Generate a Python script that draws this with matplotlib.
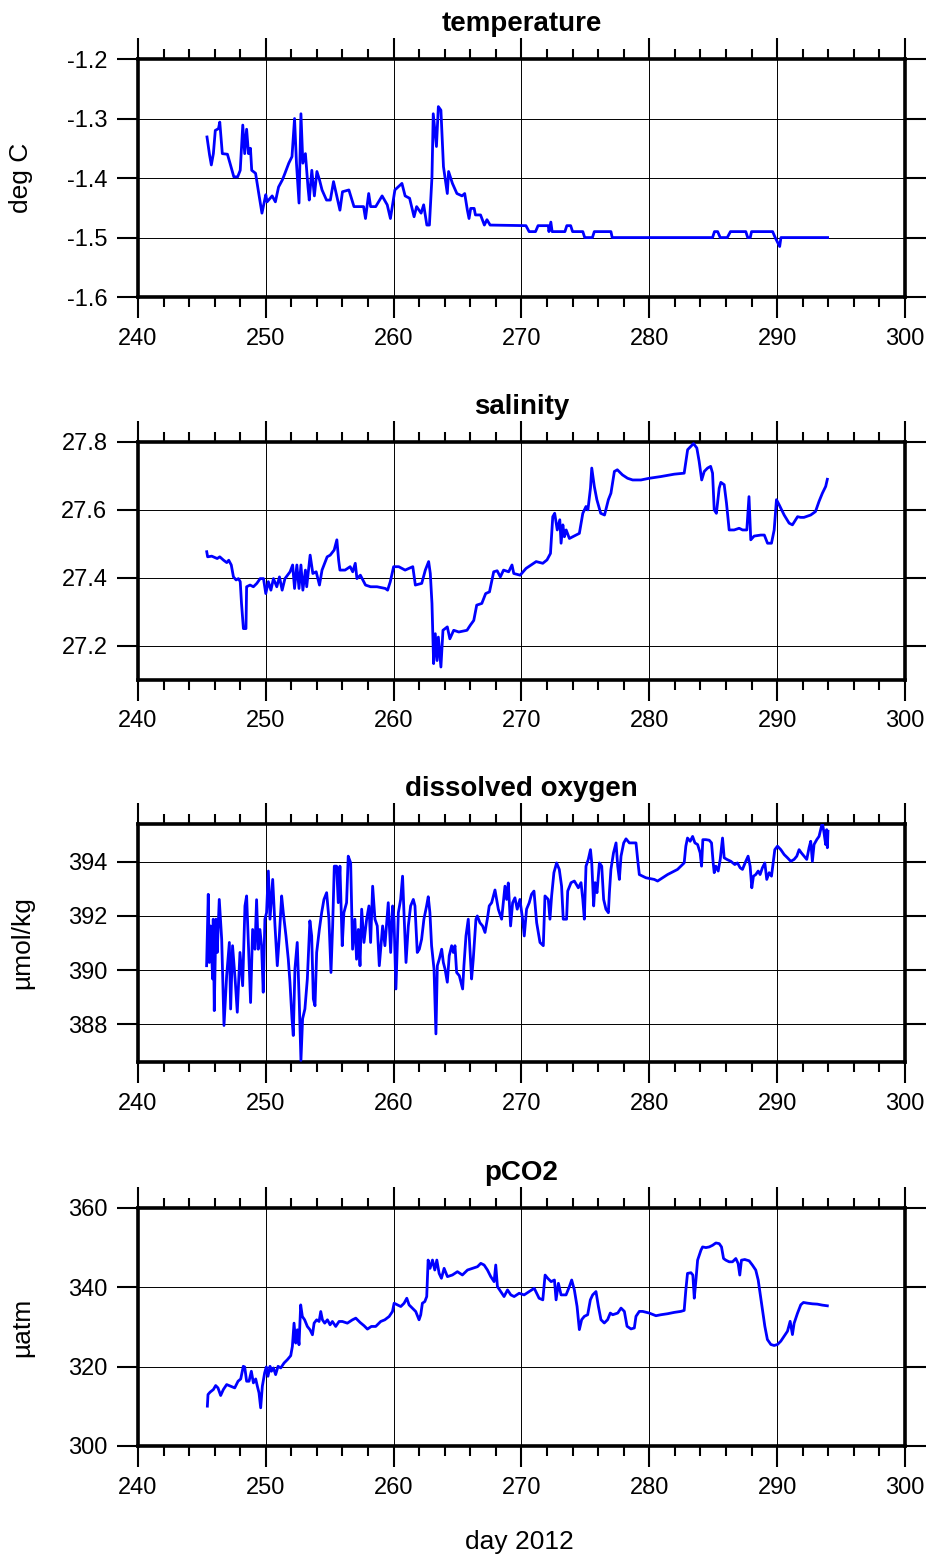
import matplotlib
matplotlib.use("Agg")
import matplotlib.pyplot as plt
from matplotlib.ticker import MultipleLocator

plt.rcParams['font.family'] = ['Liberation Sans', 'DejaVu Sans']

# temperature (deg C)
temp_day = [245.4, 245.6, 245.74, 245.9, 246.05, 246.3, 246.4, 246.6, 247.0, 247.2, 247.5, 247.8,
            248.0, 248.2, 248.35, 248.5, 248.65, 248.8, 248.9, 249.2, 249.45, 249.7, 250.0, 250.1,
            250.5, 250.75, 251.0, 251.3, 251.5, 251.8, 252.05, 252.25, 252.4, 252.6, 252.75, 252.9,
            253.1, 253.3, 253.4, 253.6, 253.8, 254.0, 254.2, 254.4, 254.75, 255.05, 255.3, 255.55,
            255.8, 256.0, 256.5, 256.9, 257.65, 257.8, 258.05, 258.2, 258.6, 259.1, 259.5, 259.75,
            260.1, 260.65, 260.9, 261.25, 261.6, 261.8, 262.15, 262.35, 262.6, 262.8, 263.0, 263.1,
            263.35, 263.5, 263.7, 263.9, 264.2, 264.3, 264.6, 264.95, 265.35, 265.56, 265.77, 265.9,
            266.03, 266.3, 266.4, 266.8, 267.1, 267.3, 267.55, 270.35, 270.6, 271.1, 271.3, 272.1,
            272.15, 272.3, 272.4, 273.4, 273.55, 273.85, 274.0, 274.8, 274.95, 275.55, 275.7, 277.0,
            277.1, 284.95, 285.1, 285.35, 285.55, 286.1, 286.35, 287.55, 287.7, 287.9, 288.0, 289.65,
            289.85, 290.2, 290.3, 293.95]
temp_val = [-1.331, -1.361, -1.378, -1.359, -1.32, -1.317, -1.306, -1.359, -1.36, -1.375, -1.398, -1.398,
            -1.387, -1.311, -1.359, -1.318, -1.359, -1.35, -1.387, -1.392, -1.426, -1.459, -1.428, -1.44,
            -1.43, -1.44, -1.415, -1.403, -1.392, -1.375, -1.364, -1.30, -1.375, -1.442, -1.292, -1.375,
            -1.359, -1.415, -1.437, -1.387, -1.43, -1.389, -1.403, -1.42, -1.437, -1.437, -1.406, -1.43,
            -1.454, -1.423, -1.42, -1.448, -1.448, -1.468, -1.426, -1.448, -1.448, -1.43, -1.445, -1.468,
            -1.42, -1.409, -1.43, -1.434, -1.465, -1.448, -1.459, -1.445, -1.479, -1.479, -1.398, -1.292,
            -1.347, -1.28, -1.286, -1.381, -1.426, -1.389, -1.409, -1.426, -1.43, -1.426, -1.454, -1.468,
            -1.451, -1.451, -1.462, -1.462, -1.479, -1.47, -1.479, -1.48, -1.49, -1.49, -1.48, -1.48,
            -1.49, -1.474, -1.49, -1.49, -1.48, -1.48, -1.49, -1.49, -1.50, -1.50, -1.49, -1.49,
            -1.50, -1.50, -1.49, -1.49, -1.50, -1.50, -1.49, -1.49, -1.50, -1.50, -1.49, -1.49,
            -1.50, -1.515, -1.50, -1.50]

# salinity
sal_day = [245.38, 245.45, 245.77, 246.2, 246.4, 246.7, 246.95, 247.1, 247.3, 247.47, 247.68, 247.86,
           248.0, 248.1, 248.25, 248.45, 248.5, 248.77, 249.03, 249.3, 249.56, 249.82, 250.0, 250.2,
           250.4, 250.6, 250.86, 251.07, 251.28, 251.5, 251.9, 252.1, 252.25, 252.43, 252.6, 252.75,
           252.9, 253.1, 253.2, 253.47, 253.68, 253.94, 254.2, 254.4, 254.8, 255.04, 255.35, 255.56,
           255.7, 255.8, 256.2, 256.6, 256.8, 257.0, 257.13, 257.4, 257.8, 258.2, 258.7, 259.35,
           259.53, 259.74, 260.0, 260.4, 260.9, 261.5, 261.7, 262.2, 262.48, 262.74, 262.87, 263.0,
           263.13, 263.26, 263.4, 263.5, 263.7, 263.86, 264.2, 264.4, 264.7, 265.1, 265.74, 266.0,
           266.27, 266.5, 266.9, 267.2, 267.5, 267.83, 268.1, 268.35, 268.6, 269.0, 269.26, 269.4,
           269.9, 270.36, 270.75, 271.15, 271.67, 272.0, 272.27, 272.45, 272.6, 272.8, 273.0, 273.1,
           273.24, 273.36, 273.5, 273.75, 274.53, 274.8, 275.05, 275.2, 275.4, 275.5, 275.7, 275.9,
           276.2, 276.5, 276.8, 277.0, 277.27, 277.5, 277.9, 278.3, 278.7, 279.35, 280.0, 280.9,
           281.95, 282.73, 283.0, 283.25, 283.46, 283.72, 283.9, 284.1, 284.3, 284.56, 284.8, 284.95,
           285.08, 285.25, 285.47, 285.6, 285.86, 286.04, 286.25, 286.64, 287.03, 287.3, 287.63, 287.8,
           287.94, 288.2, 288.72, 289.0, 289.25, 289.56, 289.77, 289.95, 290.16, 290.55, 290.94, 291.2,
           291.6, 291.85, 292.1, 292.63, 293.0, 293.28, 293.54, 293.8, 293.93]
sal_val = [27.477, 27.462, 27.464, 27.457, 27.462, 27.452, 27.445, 27.452, 27.438, 27.403, 27.394, 27.398,
           27.389, 27.325, 27.251, 27.251, 27.374, 27.379, 27.374, 27.384, 27.398, 27.398, 27.354, 27.389,
           27.364, 27.398, 27.374, 27.403, 27.364, 27.398, 27.418, 27.438, 27.369, 27.438, 27.369, 27.438,
           27.364, 27.423, 27.374, 27.467, 27.413, 27.418, 27.379, 27.423, 27.462, 27.467, 27.482, 27.512,
           27.452, 27.423, 27.423, 27.433, 27.418, 27.443, 27.398, 27.408, 27.379, 27.374, 27.374, 27.369,
           27.364, 27.389, 27.433, 27.433, 27.423, 27.433, 27.379, 27.384, 27.423, 27.448, 27.413, 27.325,
           27.148, 27.236, 27.157, 27.226, 27.138, 27.246, 27.256, 27.221, 27.246, 27.241, 27.246, 27.261,
           27.275, 27.32, 27.325, 27.354, 27.359, 27.418, 27.421, 27.403, 27.423, 27.418, 27.438, 27.413,
           27.408, 27.428, 27.438, 27.448, 27.443, 27.453, 27.472, 27.58, 27.59, 27.541, 27.571, 27.502,
           27.556, 27.521, 27.541, 27.516, 27.531, 27.59, 27.61, 27.6, 27.664, 27.723, 27.669, 27.63,
           27.59, 27.585, 27.63, 27.649, 27.713, 27.718, 27.703, 27.693, 27.688, 27.688, 27.693, 27.698,
           27.705, 27.708, 27.777, 27.787, 27.795, 27.782, 27.743, 27.688, 27.713, 27.723, 27.728, 27.708,
           27.6, 27.59, 27.664, 27.681, 27.674, 27.62, 27.541, 27.541, 27.546, 27.541, 27.541, 27.639,
           27.512, 27.523, 27.526, 27.526, 27.502, 27.502, 27.541, 27.63, 27.615, 27.585, 27.561, 27.556,
           27.58, 27.578, 27.578, 27.585, 27.595, 27.625, 27.649, 27.669, 27.69]

# dissolved oxygen (umol/kg)
oxy_day = [245.37, 245.5, 245.58, 245.68, 245.84, 245.89, 245.97, 246.1, 246.2, 246.36, 246.55, 246.73,
           246.94, 247.15, 247.25, 247.4, 247.6, 247.77, 247.98, 248.19, 248.37, 248.5, 248.68, 248.81,
           248.97, 249.15, 249.28, 249.41, 249.54, 249.67, 249.8, 249.93, 250.06, 250.2, 250.33, 250.54,
           250.72, 250.9, 251.06, 251.24, 251.37, 251.58, 251.76, 251.89, 252.05, 252.15, 252.28, 252.46,
           252.62, 252.75, 252.88, 253.06, 253.25, 253.45, 253.59, 253.72, 253.85, 253.98, 254.19, 254.37,
           254.55, 254.76, 254.94, 255.1, 255.23, 255.36, 255.54, 255.67, 255.8, 255.98, 256.11, 256.32,
           256.45, 256.64, 256.79, 256.97, 257.1, 257.24, 257.37, 257.5, 257.68, 257.89, 258.07, 258.2,
           258.36, 258.54, 258.72, 258.88, 259.14, 259.32, 259.58, 259.77, 259.92, 260.03, 260.18, 260.37,
           260.55, 260.7, 260.83, 260.97, 261.15, 261.33, 261.54, 261.67, 261.85, 262.01, 262.19, 262.37,
           262.58, 262.71, 262.84, 262.97, 263.16, 263.31, 263.42, 263.57, 263.76, 263.89, 264.02, 264.2,
           264.35, 264.54, 264.67, 264.8, 264.93, 265.14, 265.4, 265.5, 265.66, 265.84, 265.97, 266.1,
           266.23, 266.44, 266.55, 266.75, 266.96, 267.15, 267.33, 267.48, 267.67, 267.93, 268.19, 268.45,
           268.71, 268.84, 268.97, 269.15, 269.31, 269.49, 269.67, 269.88, 270.09, 270.22, 270.4, 270.61,
           270.79, 270.98, 271.19, 271.45, 271.71, 271.84, 272.1, 272.23, 272.36, 272.54, 272.75, 272.96,
           273.14, 273.27, 273.53, 273.62, 273.88, 274.14, 274.45, 274.66, 274.8, 274.92, 275.05, 275.23,
           275.4, 275.5, 275.65, 275.76, 275.91, 276.1, 276.28, 276.43, 276.61, 276.8, 276.88, 277.0,
           277.2, 277.4, 277.53, 277.66, 277.79, 278.0, 278.18, 278.44, 278.96, 279.09, 279.22, 279.74,
           280.39, 280.65, 281.43, 282.21, 282.73, 282.86, 282.99, 283.2, 283.39, 283.57, 283.78, 283.98,
           284.09, 284.19, 284.43, 284.69, 284.87, 285.0, 285.08, 285.21, 285.39, 285.55, 285.73, 285.86,
           286.07, 286.38, 286.69, 286.9, 287.11, 287.29, 287.55, 287.73, 287.89, 288.02, 288.15, 288.33,
           288.52, 288.67, 288.85, 289.04, 289.19, 289.38, 289.56, 289.69, 289.82, 290.03, 290.29, 290.55,
           290.81, 291.07, 291.33, 291.54, 291.72, 291.9, 292.11, 292.32, 292.5, 292.63, 292.76, 292.89,
           293.1, 293.28, 293.41, 293.54, 293.67, 293.8, 293.88, 293.93, 293.98]
oxy_val = [390.16, 392.8, 390.28, 391.63, 389.67, 391.88, 388.5, 391.88, 390.65, 392.61, 391.14, 387.95,
           389.8, 391.02, 388.56, 390.9, 389.67, 388.44, 390.65, 389.42, 392.37, 392.74, 390.4, 388.8,
           391.5, 390.77, 392.6, 390.77, 391.5, 390.9, 389.18, 391.88, 392.12, 393.66, 391.88, 393.35,
           391.63, 390.16, 391.26, 392.74, 392.12, 391.26, 390.4, 389.55, 388.2, 387.58, 390.04, 391.02,
           388.8, 386.66, 388.2, 388.56, 389.67, 391.82, 391.26, 388.93, 388.68, 390.65, 391.5, 392.12,
           392.61, 392.86, 391.88, 389.91, 391.63, 393.84, 393.84, 392.49, 393.84, 390.9, 392.12, 392.49,
           394.21, 393.96, 390.77, 391.88, 390.4, 391.5, 390.16, 392.25, 391.02, 391.88, 392.37, 391.02,
           393.1, 391.88, 391.63, 390.16, 391.63, 390.9, 392.49, 390.65, 392.37, 391.88, 389.3, 392.12,
           392.61, 393.47, 391.88, 390.28, 391.63, 392.37, 392.61, 392.37, 390.65, 390.77, 391.14, 391.88,
           392.37, 392.71, 392.12, 390.9, 390.04, 387.64, 390.16, 390.4, 390.77, 390.28, 390.04, 389.55,
           390.53, 390.9, 390.65, 390.9, 389.91, 389.79, 389.3, 390.16, 391.26, 391.88, 390.77, 389.67,
           390.4, 391.88, 392.0, 391.75, 391.63, 391.39, 391.88, 392.37, 392.49, 392.96, 392.25, 391.88,
           393.1, 392.61, 393.22, 391.63, 392.49, 392.67, 392.25, 392.61, 391.88, 391.26, 392.25, 392.49,
           392.8, 392.92, 391.75, 391.02, 390.9, 392.74, 392.61, 391.88, 392.74, 393.6, 393.96, 393.72,
           393.1, 391.88, 391.88, 392.92, 393.23, 393.29, 393.04, 393.23, 392.61, 391.88, 393.84, 394.09,
           394.45, 393.96, 392.37, 393.23, 392.86, 393.96, 393.84, 392.61, 392.25, 392.12, 392.86, 393.72,
           394.33, 394.7, 393.84, 393.35, 394.21, 394.7, 394.85, 394.7, 394.7, 394.09, 393.53, 393.41,
           393.35, 393.29, 393.53, 393.72, 393.96, 394.58, 394.88, 394.76, 394.94, 394.7, 394.64, 394.33,
           393.84, 394.82, 394.82, 394.8, 394.7, 393.96, 393.6, 393.84, 393.66, 394.09, 394.88, 394.15,
           394.09, 394.02, 393.9, 393.96, 393.78, 393.72, 394.02, 394.21, 393.84, 393.04, 393.47, 393.53,
           393.66, 393.53, 393.78, 393.96, 393.35, 393.6, 393.47, 393.96, 394.45, 394.58, 394.45, 394.27,
           394.15, 394.02, 394.09, 394.21, 394.45, 394.33, 394.21, 394.09, 394.52, 394.76, 394.02, 394.64,
           394.82, 394.94, 395.19, 395.45, 395.07, 394.64, 395.19, 394.52, 395.13]

# pCO2 (uatm)
pco2_day = [245.43, 245.48, 245.64, 245.9, 246.08, 246.26, 246.47, 246.68, 246.94, 247.25, 247.57, 247.83,
            248.04, 248.24, 248.35, 248.5, 248.69, 248.87, 249.03, 249.21, 249.34, 249.47, 249.6, 249.73,
            249.91, 250.04, 250.17, 250.33, 250.44, 250.6, 250.77, 250.96, 251.17, 251.43, 251.69, 251.95,
            252.08, 252.21, 252.34, 252.47, 252.6, 252.73, 252.86, 253.04, 253.25, 253.46, 253.65, 253.78,
            253.98, 254.17, 254.3, 254.43, 254.61, 254.82, 255.03, 255.21, 255.47, 255.73, 255.99, 256.38,
            256.78, 257.04, 257.38, 257.69, 257.95, 258.26, 258.6, 258.99, 259.31, 259.65, 259.91, 260.04,
            260.3, 260.56, 260.82, 261.03, 261.21, 261.47, 261.73, 261.99, 262.12, 262.25, 262.44, 262.59,
            262.7, 262.85, 263.04, 263.22, 263.38, 263.56, 263.74, 263.95, 264.21, 264.6, 264.99, 265.38,
            265.78, 266.17, 266.56, 266.82, 267.08, 267.34, 267.6, 267.86, 267.99, 268.12, 268.38, 268.64,
            268.91, 269.17, 269.43, 269.82, 270.21, 270.6, 271.0, 271.38, 271.67, 271.85, 272.06, 272.32,
            272.58, 272.71, 272.89, 273.1, 273.49, 273.75, 273.93, 274.14, 274.35, 274.53, 274.71, 274.92,
            275.18, 275.39, 275.57, 275.83, 276.02, 276.22, 276.48, 276.74, 276.95, 277.14, 277.53, 277.79,
            278.05, 278.26, 278.57, 278.83, 278.96, 279.22, 279.48, 280.0, 280.52, 280.91, 281.43, 281.95,
            282.47, 282.73, 282.86, 282.99, 283.26, 283.41, 283.52, 283.65, 283.78, 284.04, 284.17, 284.43,
            284.69, 284.95, 285.21, 285.47, 285.65, 285.81, 285.99, 286.25, 286.51, 286.77, 286.95, 287.08,
            287.21, 287.47, 287.81, 288.07, 288.33, 288.52, 288.67, 288.85, 289.04, 289.24, 289.51, 289.77,
            290.03, 290.29, 290.55, 290.81, 291.02, 291.2, 291.33, 291.59, 291.85, 292.06, 292.37, 292.76,
            293.15, 293.54, 293.93]
pco2_val = [310.04, 312.97, 313.56, 314.23, 315.23, 314.64, 312.72, 314.23, 315.48, 315.06, 314.64, 316.32,
            316.9, 320.08, 319.92, 316.32, 316.32, 318.83, 315.9, 316.9, 315.06, 313.39, 309.62, 315.06,
            318.41, 319.92, 317.57, 320.08, 318.83, 319.67, 317.99, 320.08, 319.67, 320.92, 321.76, 322.76,
            325.1, 330.96, 325.94, 329.29, 325.52, 335.56, 332.64, 331.8, 330.13, 329.29, 328.03, 330.96,
            331.8, 331.38, 333.89, 331.8, 330.96, 331.8, 330.54, 331.38, 330.13, 331.38, 331.38, 330.96,
            331.8, 332.22, 331.13, 330.3, 329.46, 330.13, 330.13, 331.38, 331.8, 332.64, 333.89, 335.98,
            335.56, 335.15, 335.98, 337.24, 335.56, 334.73, 333.89, 331.8, 333.05, 335.98, 336.4, 337.66,
            346.86, 344.77, 346.86, 344.35, 346.86, 343.51, 342.26, 344.77, 342.68, 343.1, 343.93, 343.1,
            344.35, 344.77, 345.19, 346.03, 345.61, 344.35, 342.68, 341.42, 345.61, 340.17, 338.91, 337.66,
            339.33, 338.08, 337.66, 338.49, 338.08, 338.91, 339.75, 337.24, 336.83, 343.08, 342.25, 341.42,
            341.83, 336.83, 341.0, 338.08, 338.08, 340.17, 341.83, 339.33, 335.17, 329.33, 331.83, 332.67,
            333.08, 336.83, 338.08, 338.92, 335.17, 331.83, 331.0, 331.83, 333.5, 333.08, 333.5, 334.75,
            333.92, 330.17, 329.5, 329.75, 332.67, 333.92, 333.92, 333.5, 332.83, 333.08, 333.33, 333.67,
            333.92, 334.17, 339.33, 343.5, 343.67, 343.08, 337.25, 341.83, 346.83, 349.33, 350.17, 350.0,
            350.17, 350.58, 351.17, 351.0, 350.17, 347.25, 346.83, 346.42, 346.42, 347.25, 346.0, 343.08,
            346.83, 347.0, 346.67, 345.58, 344.33, 341.83, 338.5, 334.33, 330.17, 326.83, 325.58, 325.33,
            325.58, 326.42, 327.67, 328.92, 331.42, 328.08, 330.92, 333.42, 335.58, 336.17, 336.0, 335.83,
            335.75, 335.5, 335.33]

titles = ['temperature', 'salinity', 'dissolved oxygen', 'pCO2']
ylabels = ['deg C', '', 'µmol/kg', 'µatm']
ylims = [(-1.6, -1.2), (27.1, 27.8), (386.6, 395.4), (300, 360)]
yticks = [[-1.6, -1.5, -1.4, -1.3, -1.2], [27.2, 27.4, 27.6, 27.8], [388, 390, 392, 394], [300, 320, 340, 360]]
ytick_labels = [['-1.6', '-1.5', '-1.4', '-1.3', '-1.2'], ['27.2', '27.4', '27.6', '27.8'],
                ['388', '390', '392', '394'], ['300', '320', '340', '360']]
series = [(temp_day, temp_val), (sal_day, sal_val), (oxy_day, oxy_val), (pco2_day, pco2_val)]
bottoms = [0.8092, 0.5633, 0.3179, 0.0713]

fig = plt.figure(figsize=(9.29, 15.57), dpi=100)

for i in range(4):
    ax = fig.add_axes([0.1485, bottoms[i], 0.8256, 0.1529])
    x, y = series[i]
    ax.plot(x, y, color='#0000ff', lw=2.0, zorder=3)
    ax.set_xlim(240, 300)
    ax.set_ylim(*ylims[i])
    ax.xaxis.set_major_locator(MultipleLocator(10))
    ax.xaxis.set_minor_locator(MultipleLocator(2))
    ax.set_yticks(yticks[i])
    ax.set_yticklabels(ytick_labels[i])
    ax.grid(True, which='major', color='black', lw=0.7)
    for s in ax.spines.values():
        s.set_linewidth(2.6)
    ax.tick_params(which='major', direction='out', length=15, width=1.5,
                   top=True, right=True, labelsize=17, pad=7)
    ax.tick_params(axis='x', which='minor', direction='out', length=7, width=1.5,
                   top=True, bottom=True)
    ax.tick_params(axis='y', which='minor', left=False, right=False)
    ax.set_title(titles[i], fontsize=20, fontweight='bold', pad=20)
    if ylabels[i]:
        ax.set_ylabel(ylabels[i], fontsize=19, labelpad=24)

fig.text(0.5587, 0.002, 'day 2012', ha='center', va='bottom', fontsize=19)

fig.savefig('out.png', dpi=100)
